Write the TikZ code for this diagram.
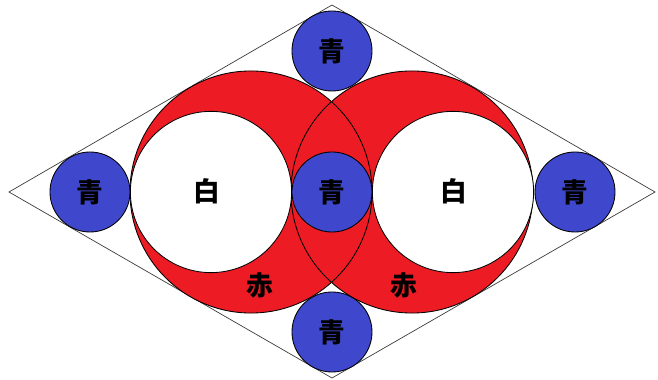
\documentclass[tikz,border=0pt]{standalone}
\usepackage{fontspec}
\newfontfamily\jpfont{Noto Sans CJK JP}
\usetikzlibrary{positioning}
\definecolor{sgred}{RGB}{237,28,36}
\definecolor{sgblue}{RGB}{63,72,204}
\definecolor{sgline}{RGB}{60,60,60}
\tikzset{
  disc/.style={circle,inner sep=0pt,outer sep=0pt,line width=0.6pt,
               font=\jpfont\bfseries\fontsize{19}{19}\selectfont},
  bluedisc/.style={disc,draw=black,fill=sgblue,minimum size=2cm},
  whitedisc/.style={disc,draw=black,fill=white,minimum size=4.03cm},
  reddisc/.style={disc,fill=sgred,minimum size=6.05cm},
  redrim/.style={disc,draw=black,minimum size=6.05cm},
  klabel/.style={font=\jpfont\bfseries\fontsize{19}{19}\selectfont},
  rimline/.style={draw=sgline,line width=0.5pt},
}

\begin{document}
\begin{tikzpicture}[x=0.025cm,y=0.025cm]
    \useasboundingbox (-332,-188) rectangle (326,192);
    % rhombus
    \coordinate (W) at (-323,0);
    \coordinate (N) at (0,187);
    \coordinate (E) at (323,0);
    \coordinate (S) at (0,-186);
    \draw[rimline] (W) -- (N) -- (E) -- (S) -- cycle;
    % red circles, rims on top so both arcs show in the overlap
    \node[reddisc] (redL) at (-81,0) {};
    \node[reddisc] (redR) at (80,0) {};
    \node[redrim] at (redL) {};
    \node[redrim] at (redR) {};
    \node[whitedisc] (whiteL) at (-121,0) {};
    \node[whitedisc] (whiteR) at (121,0) {};
    \node[klabel] (shiroL) at (-125,1) {白};
    \node[klabel] (shiroR) at (122,1) {白};
    \node[klabel] (akaL) at (-72,-93) {赤};
    \node[klabel] (akaR) at (72,-93) {赤};
    % blue circles
    \node[bluedisc] (blueC) at (0,0) {青};
    \node[bluedisc] (blueN) at (0,141) {青};
    \node[bluedisc] (blueS) at (0,-140) {青};
    \node[bluedisc] (blueW) at (-242,0) {青};
    \node[bluedisc] (blueE) at (243,0) {青};
\end{tikzpicture}
\end{document}
